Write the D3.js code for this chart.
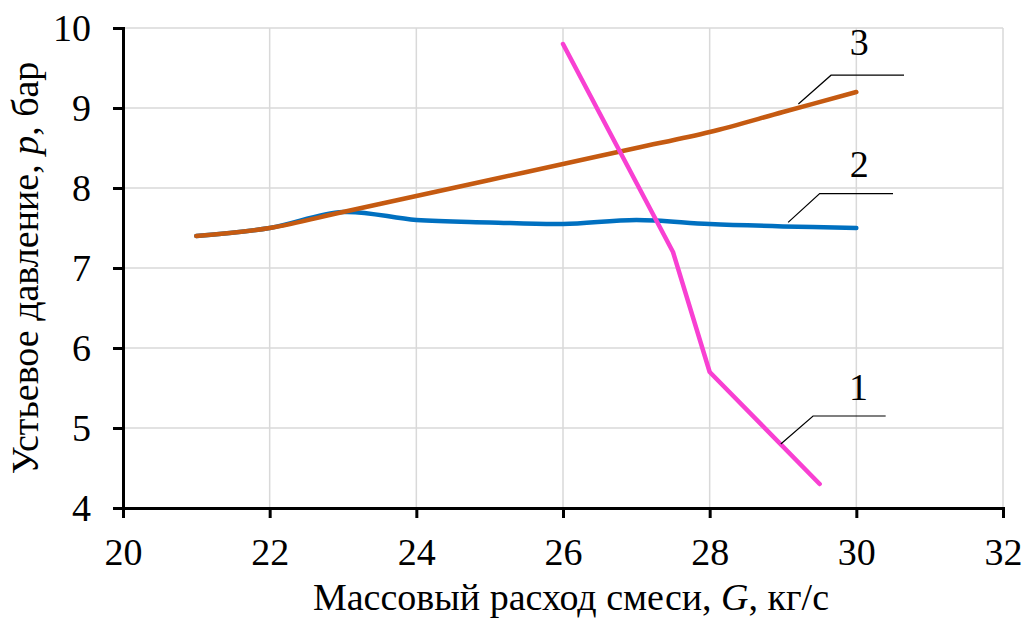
<!DOCTYPE html>
<html>
<head>
<meta charset="utf-8">
<script src="https://cdn.jsdelivr.net/npm/d3@7"></script>
<style>
  html, body { margin: 0; padding: 0; background: #fff; }
  svg { display: block; }
  svg text { font-family: 'Liberation Serif', Tinos, 'Times New Roman', Times, 'DejaVu Serif', serif !important; fill: #000; }
</style>
</head>
<body>
<svg id="chart" width="1031" height="621"></svg>
<script>
// Mass flow of the mixture G, kg/s
const flow1 = [26, 27.5, 28, 29.5];
const pressure1 = [9.8, 7.2, 5.7, 4.3];

const flow2 = [21, 22, 23, 24, 25, 26, 27, 28, 29, 30];
const pressure2 = [7.4, 7.5, 7.7, 7.6, 7.57, 7.55, 7.6, 7.55, 7.52, 7.5];

const flow3 = [21, 22, 23, 24, 25, 26, 27, 28, 29, 30];
const pressure3 = [7.4, 7.5, 7.7, 7.9, 8.1, 8.3, 8.5, 8.7, 8.95, 9.2];

const xTicks = [20, 22, 24, 26, 28, 30, 32];
const yTicks = [4, 5, 6, 7, 8, 9, 10];

// Curve numbers with leader lines, in data units: [start on curve, elbow, end], label position
const curveLabels = ["1", "2", "3"];
const leaderPaths = [
  [[28.97, 4.80], [29.41, 5.15], [30.40, 5.15]],
  [[29.07, 7.57], [29.50, 7.93], [30.50, 7.93]],
  [[29.21, 9.05], [29.655, 9.41], [30.65, 9.41]]
];
const labelPos = [[30.03, 5.35], [30.04, 8.14], [30.04, 9.66]];

const serif = "'Liberation Serif', Tinos, 'Times New Roman', Times, 'DejaVu Serif', serif";

const svg = d3.select("#chart");
const margin = { left: 123, top: 28, right: 28, bottom: 113 };
const W = 1031, H = 621;

const x = d3.scaleLinear().domain([20, 32]).range([margin.left, W - margin.right]);
const y = d3.scaleLinear().domain([4, 10]).range([H - margin.bottom, margin.top]);

const fontSize = 38;

// gridlines
svg.append("g")
  .selectAll("line")
  .data(yTicks.filter(d => d !== 4))
  .join("line")
  .attr("x1", x(20)).attr("x2", x(32))
  .attr("y1", d => y(d)).attr("y2", d => y(d))
  .attr("stroke", "#d9d9d9").attr("stroke-width", 1.5);
svg.append("g")
  .selectAll("line")
  .data(xTicks.filter(d => d !== 20))
  .join("line")
  .attr("y1", y(4)).attr("y2", y(10))
  .attr("x1", d => x(d)).attr("x2", d => x(d))
  .attr("stroke", "#d9d9d9").attr("stroke-width", 1.5);

// axes
const xAxis = d3.axisBottom(x).tickValues(xTicks).tickFormat(d3.format("d")).tickSizeOuter(0).tickSize(10).tickPadding(20);
const yAxis = d3.axisLeft(y).tickValues(yTicks).tickFormat(d3.format("d")).tickSizeOuter(0).tickSize(10).tickPadding(22);

const gx = svg.append("g").attr("transform", `translate(0,${y(4)})`).call(xAxis);
const gy = svg.append("g").attr("transform", `translate(${x(20)},0)`).call(yAxis);

[gx, gy].forEach(g => {
  g.attr("font-family", serif).attr("font-size", fontSize);
  g.select(".domain").attr("stroke", "#000").attr("stroke-width", 3);
  g.selectAll(".tick line").attr("stroke", "#000").attr("stroke-width", 3);
  g.selectAll(".tick text").style("font-family", serif).style("font-size", fontSize + "px").attr("fill", "#000");
});
gx.selectAll(".tick text").attr("dy", "0.71em");
gy.selectAll(".tick text").attr("dy", "0.34em");

// series
const smooth = d3.line().x(d => x(d[0])).y(d => y(d[1])).curve(d3.curveCatmullRom.alpha(0.5));
const straight = d3.line().x(d => x(d[0])).y(d => y(d[1]));

const s1 = flow1.map((g, i) => [g, pressure1[i]]);
const s2 = flow2.map((g, i) => [g, pressure2[i]]);
const s3 = flow3.map((g, i) => [g, pressure3[i]]);

svg.append("path").datum(s2).attr("d", smooth)
  .attr("fill", "none").attr("stroke", "#0070c0").attr("stroke-width", 4.5).attr("stroke-linecap", "round");
svg.append("path").datum(s3).attr("d", smooth)
  .attr("fill", "none").attr("stroke", "#c55a11").attr("stroke-width", 4.5).attr("stroke-linecap", "round");
svg.append("path").datum(s1).attr("d", straight)
  .attr("fill", "none").attr("stroke", "#f840d2").attr("stroke-width", 4.5)
  .attr("stroke-linecap", "round").attr("stroke-linejoin", "round");

// leader lines and curve numbers
svg.append("g").selectAll("path")
  .data(leaderPaths)
  .join("path")
  .attr("d", straight)
  .attr("fill", "none").attr("stroke", "#000").attr("stroke-width", 1.2);

svg.append("g").selectAll("text")
  .data(curveLabels)
  .join("text")
  .attr("x", (d, i) => x(labelPos[i][0]))
  .attr("y", (d, i) => y(labelPos[i][1]))
  .attr("text-anchor", "middle")
  .style("font-family", serif)
  .style("font-size", fontSize + "px")
  .text(d => d);

// axis titles
const xt = svg.append("text")
  .attr("x", 571).attr("y", 610)
  .attr("text-anchor", "middle")
  .style("font-family", serif)
  .style("font-size", fontSize + "px");
xt.append("tspan").text("Массовый расход смеси, ");
xt.append("tspan").attr("font-style", "italic").text("G");
xt.append("tspan").text(", кг/с");

const yt = svg.append("text")
  .attr("transform", `translate(38,${(y(4) + y(10)) / 2}) rotate(-90)`)
  .attr("text-anchor", "middle")
  .style("font-family", serif)
  .style("font-size", fontSize + "px");
yt.append("tspan").text("Устьевое давление, ");
yt.append("tspan").attr("font-style", "italic").text("p");
yt.append("tspan").text(", бар");
</script>
</body>
</html>
